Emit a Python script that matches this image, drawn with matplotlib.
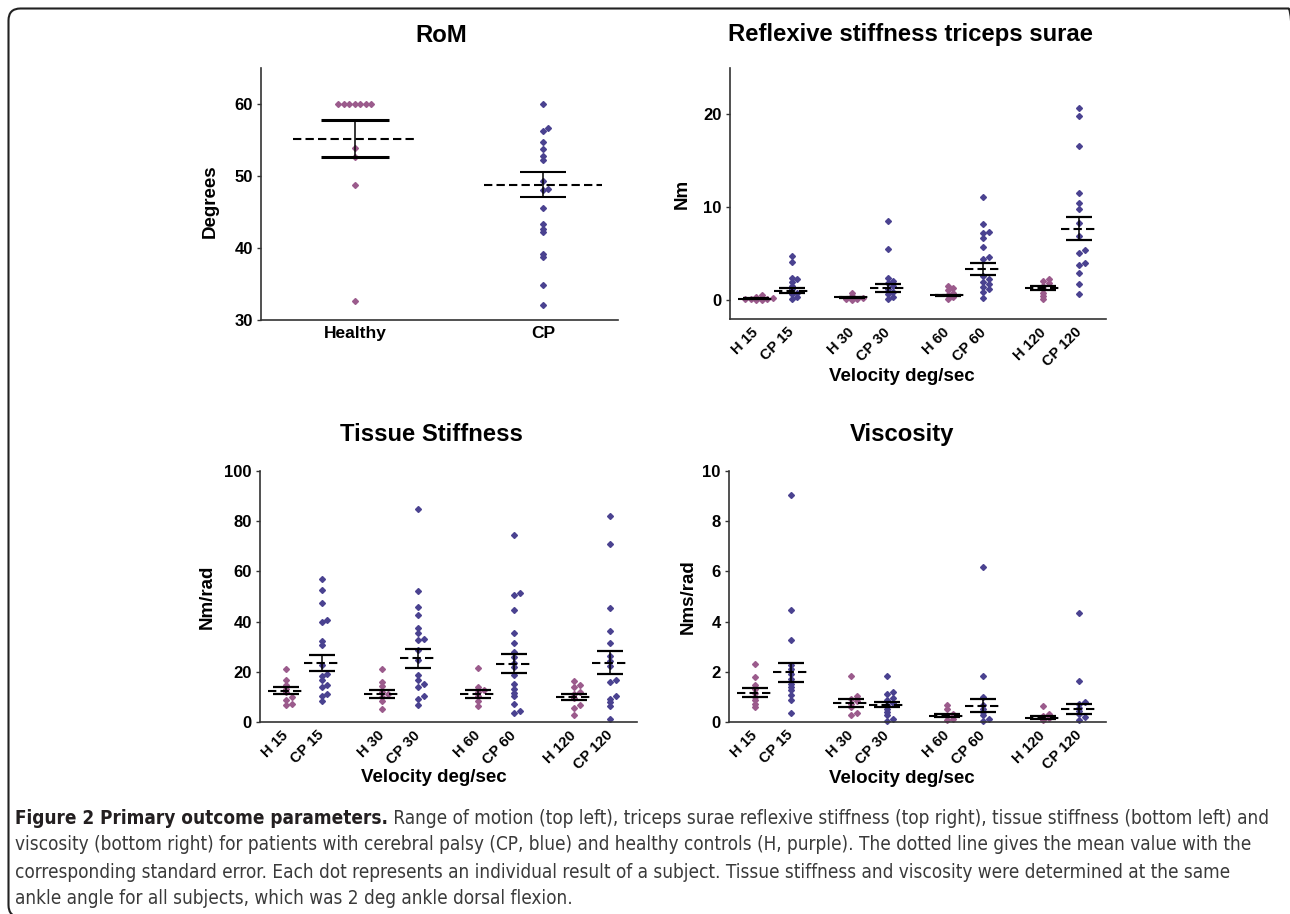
import matplotlib
matplotlib.use("Agg")
import matplotlib.pyplot as plt
from matplotlib import font_manager
from matplotlib.patches import FancyBboxPatch
from matplotlib.text import Annotation
from matplotlib.transforms import IdentityTransform

# ---- data ----
rom_groups = ['Healthy', 'CP']
rom_healthy = [60, 60, 60, 60, 60, 60, 60, 53.9, 52.6, 48.7, 32.6]
rom_cp = [60, 56.6, 56.3, 54.7, 53.7, 52.8, 52.2, 49.3, 48.2, 48.0, 45.5,
          43.3, 42.7, 42.2, 39.2, 38.7, 34.8, 32.1]
rom_means = [55.2, 48.8]
rom_sems = [2.55, 1.7]

vel_labels = ['H 15', 'CP 15', 'H 30', 'CP 30', 'H 60', 'CP 60', 'H 120', 'CP 120']

refl_values = [
    [0.6, 0.4, 0.25, 0.15, 0.1, 0.1, 0.05, 0.0],
    [4.77, 4.12, 2.44, 2.26, 2.0, 1.54, 1.18, 0.82, 0.65, 0.4, 0.1],
    [0.83, 0.47, 0.29, 0.2, 0.1, 0.05],
    [8.49, 5.58, 2.45, 2.09, 1.83, 1.55, 1.26, 0.94, 0.65, 0.4, 0.1],
    [1.55, 1.33, 1.12, 0.83, 0.61, 0.4, 0.18],
    [11.08, 8.2, 7.41, 7.3, 6.76, 5.79, 4.68, 4.5, 2.63, 2.27, 1.98, 1.73,
     1.44, 1.19, 0.94, 0.29],
    [2.34, 2.09, 1.83, 1.55, 1.19, 0.83, 0.47, 0.11],
    [20.68, 19.82, 16.65, 11.51, 10.47, 9.82, 8.38, 6.94, 5.4, 5.14, 3.99,
     3.78, 2.99, 1.8, 0.65],
]
refl_means = [0.16, 1.04, 0.32, 1.37, 0.54, 3.42, 1.33, 7.73]
refl_sems = [0.06, 0.27, 0.05, 0.43, 0.09, 0.65, 0.25, 1.23]

tissue_values = [
    [21.3, 16.6, 14.6, 13.3, 12.0, 10.0, 8.9, 7.3, 6.6],
    [56.8, 52.5, 47.5, 40.8, 39.9, 32.3, 30.5, 22.6, 19.3, 18.2, 16.6, 14.9,
     14.0, 11.3, 10.4, 8.2],
    [21.3, 16.0, 14.2, 12.0, 11.0, 10.0, 8.2, 5.3],
    [84.7, 52.3, 45.9, 42.6, 37.6, 35.5, 33.2, 32.6, 28.6, 24.9, 18.6, 16.9,
     15.0, 14.0, 10.2, 9.3, 6.9],
    [21.7, 14.0, 12.9, 12.0, 10.2, 8.4, 6.3],
    [74.5, 51.5, 50.5, 44.5, 35.5, 31.5, 27.7, 25.7, 23.5, 21.9, 18.6, 15.3,
     13.3, 11.6, 10.2, 7.3, 4.4, 3.6],
    [16.4, 14.6, 14.0, 12.0, 11.0, 9.7, 6.6, 5.7, 2.7],
    [82.0, 71.1, 45.5, 36.2, 31.3, 26.3, 24.3, 22.2, 16.9, 16.0, 10.2, 9.3,
     8.0, 6.2, 1.3],
]
tissue_means = [12.4, 23.5, 11.3, 25.3, 11.3, 23.3, 10.0, 23.7]
tissue_sems = [1.4, 3.0, 1.6, 3.85, 1.6, 3.85, 1.35, 4.65]

visc_values = [
    [2.33, 1.8, 1.46, 1.33, 1.16, 1.0, 0.86, 0.73, 0.6],
    [9.04, 4.45, 3.28, 2.26, 2.13, 1.93, 1.73, 1.53, 1.4, 1.26, 1.06, 0.86, 0.36],
    [1.84, 1.02, 0.93, 0.84, 0.73, 0.6, 0.36, 0.29],
    [1.82, 1.2, 1.1, 0.97, 0.86, 0.76, 0.66, 0.53, 0.4, 0.27, 0.13, 0.04],
    [0.66, 0.5, 0.33, 0.23, 0.13, 0.07],
    [6.16, 1.85, 1.0, 0.66, 0.53, 0.4, 0.27, 0.13, 0.04],
    [0.65, 0.33, 0.23, 0.17, 0.09],
    [4.35, 1.64, 0.8, 0.73, 0.56, 0.43, 0.31, 0.2, 0.09],
]
visc_means = [1.17, 1.98, 0.76, 0.68, 0.25, 0.64, 0.17, 0.52]
visc_sems = [0.18, 0.37, 0.15, 0.1, 0.06, 0.26, 0.065, 0.2]

H_COL = '#9b5b8c'
CP_COL = '#4a4290'

W, H = 1290, 914
plt.rcParams['font.family'] = ['Liberation Sans', 'DejaVu Sans']
plt.rcParams['font.weight'] = 'bold'
plt.rcParams['axes.labelweight'] = 'bold'

fig = plt.figure(figsize=(W / 100, H / 100), dpi=100)
fig.patch.set_facecolor('white')


def px_axes(left, top, right, bottom):
    return fig.add_axes([left / W, 1 - bottom / H, (right - left) / W, (bottom - top) / H])


def style(ax, ylim, yticks):
    ax.set_ylim(*ylim)
    ax.set_yticks(yticks)
    for s in ['top', 'right']:
        ax.spines[s].set_visible(False)
    for s in ['left', 'bottom']:
        ax.spines[s].set_color('#333333')
        ax.spines[s].set_linewidth(1.2)
    ax.tick_params(axis='y', direction='out', length=3, width=1, color='#333333',
                   labelsize=12, pad=3)
    ax.tick_params(axis='x', length=0)


def swarm(ax, x0, vals, step=5.5, tol=3.0):
    # spread points that would sit on top of each other (pixel space)
    tr = ax.transData
    ys = [tr.transform((x0, v))[1] for v in vals]
    x_px = tr.transform((x0, 0))[0]
    order = sorted(range(len(vals)), key=lambda i: ys[i])
    placed = []
    xs = [0.0] * len(vals)
    for i in order:
        for s in [0, 1, -1, 2, -2, 3, -3, 4, -4, 5, -5]:
            if all(not (ps == s and abs(py - ys[i]) < tol) for ps, py in placed):
                break
        placed.append((s, ys[i]))
        xs[i] = tr.inverted().transform((x_px + s * step, ys[i]))[0]
    return xs


def px_to_x(ax, px):
    x0, x1 = ax.get_xlim()
    return px * (x1 - x0) / (ax.get_position().width * W)


def draw_group(ax, x, vals, mean, sem, color, mean_half, cap_half, cap_lw=1.6):
    xs = swarm(ax, x, vals)
    ax.plot(xs, vals, 'D', ms=3, color=color, mec=color, zorder=2, clip_on=False)
    mh = px_to_x(ax, mean_half)
    ch = px_to_x(ax, cap_half)
    ax.hlines(mean, x - mh, x + mh, colors='black', linestyles=(0, (4, 2)), lw=1.5, zorder=3)
    ax.vlines(x, mean - sem, mean + sem, colors='black', lw=1.1, zorder=3)
    ax.hlines([mean - sem, mean + sem], x - ch, x + ch, colors='black', lw=cap_lw, zorder=3)


# ---- RoM ----
ax1 = px_axes(261, 68, 618, 320)
ax1.set_xlim(-0.5, 1.4)
style(ax1, (30, 65), [30, 40, 50, 60])
ax1.set_xticks([0, 1])
ax1.set_xticklabels(rom_groups, fontsize=12.5)
ax1.tick_params(axis='x', pad=4)
draw_group(ax1, 0, rom_healthy, rom_means[0], rom_sems[0], H_COL, 62, 34, cap_lw=2.2)
draw_group(ax1, 1, rom_cp, rom_means[1], rom_sems[1], CP_COL, 59, 23, cap_lw=1.5)
ax1.set_ylabel('Degrees', fontsize=13.5, fontweight='bold')
ax1.yaxis.set_label_coords(-0.143, 0.47)
ax1.yaxis.label.set_va('center')

# ---- velocity panels ----
pos = [(i // 2) * 2.68 + (i % 2) for i in range(len(vel_labels))]
panels = [
    ((730, 68, 1106, 319), (-2, 25), [0, 10, 20], refl_values, refl_means, refl_sems,
     'Nm', -0.128, (0.457, -0.231)),
    ((260, 471, 637, 722), (0, 100), [0, 20, 40, 60, 80, 100], tissue_values,
     tissue_means, tissue_sems, 'Nm/rad', -0.141, (0.46, -0.223)),
    ((729, 471, 1106, 722), (0, 10), [0, 2, 4, 6, 8, 10], visc_values, visc_means,
     visc_sems, 'Nms/rad', -0.108, (0.458, -0.227)),
]
for box, ylim, yticks, vals, means, sems, ylab, ylx, xlc in panels:
    ax = px_axes(*box)
    ax.set_xlim(-0.73, pos[-1] + 0.75)
    style(ax, ylim, yticks)
    ax.set_xticks(pos)
    ax.set_xticklabels(vel_labels, rotation=45, ha='right', va='center',
                       rotation_mode='anchor', fontsize=10.5)
    ax.tick_params(axis='x', pad=8)
    for i, x in enumerate(pos):
        col = H_COL if i % 2 == 0 else CP_COL
        draw_group(ax, x, vals[i], means[i], sems[i], col, 18, 13)
    ax.set_ylabel(ylab, fontsize=13.5, fontweight='bold')
    ax.yaxis.set_label_coords(ylx, 0.5)
    ax.yaxis.label.set_va('center')
    ax.set_xlabel('Velocity deg/sec', fontsize=13.5, fontweight='bold')
    ax.xaxis.set_label_coords(*xlc)
    ax.xaxis.label.set_va('center')

# ---- panel titles ----
for txt, x, y in [('RoM', 441, 35), ('Reflexive stiffness triceps surae', 911, 35),
                  ('Tissue Stiffness', 431, 435), ('Viscosity', 902, 435)]:
    fig.text(x / W, 1 - y / H, txt, ha='center', va='center', fontsize=17.2,
             fontweight='bold')


# ---- caption ----
def pick_caption_font():
    for fam, stretch in [('Liberation Sans Narrow', 'normal'),
                         ('DejaVu Sans', 'condensed'),
                         ('Open Sans', 'condensed')]:
        try:
            path = font_manager.findfont(
                font_manager.FontProperties(family=fam, stretch=stretch),
                fallback_to_default=False)
        except Exception:
            continue
        if 'Narrow' in path or 'Condensed' in path:
            return fam, stretch
    return 'Open Sans', 'normal'


cap_font, cap_stretch = pick_caption_font()
cap_head = 'Figure 2 Primary outcome parameters.'
cap_lines = [
    ' Range of motion (top left), triceps surae reflexive stiffness (top right), tissue stiffness (bottom left) and',
    'viscosity (bottom right) for patients with cerebral palsy (CP, blue) and healthy controls (H, purple). The dotted line gives the mean value with the',
    'corresponding standard error. Each dot represents an individual result of a subject. Tissue stiffness and viscosity were determined at the same',
    'ankle angle for all subjects, which was 2 deg ankle dorsal flexion.',
]
cap_y = [818, 845, 872, 899]
cap_texts = []
bold = fig.text(15 / W, 1 - cap_y[0] / H, cap_head, ha='left', va='center',
                fontsize=14, fontweight='bold', family=cap_font,
                fontstretch=cap_stretch, color='#231f20')
cap_texts.append(bold)
rest = Annotation(cap_lines[0], xy=(1, 0.5), xycoords=bold, ha='left', va='center',
                  fontsize=14, fontweight='normal', family=cap_font,
                  fontstretch=cap_stretch, color='#3a3a3a')
fig.add_artist(rest)
cap_texts.append(rest)
for line, y in zip(cap_lines[1:], cap_y[1:]):
    cap_texts.append(fig.text(15 / W, 1 - y / H, line, ha='left', va='center',
                              fontsize=14, fontweight='normal', family=cap_font,
                              fontstretch=cap_stretch, color='#3a3a3a'))

# fit the caption to the width of the reference (second line spans 15..1257 px)
renderer = fig.canvas.get_renderer()
w2 = cap_texts[2].get_window_extent(renderer).width
scale = 1242.0 / w2
for t in cap_texts:
    t.set_fontsize(14 * scale)

# ---- rounded frame ----
frame = FancyBboxPatch((8.5, -3), 1292, 914 - 8.5 + 3,
                       boxstyle='round,pad=0,rounding_size=12',
                       transform=IdentityTransform(), fill=False,
                       ec='#222222', lw=1.5)
fig.add_artist(frame)

fig.savefig('out.png', dpi=100, facecolor='white')
